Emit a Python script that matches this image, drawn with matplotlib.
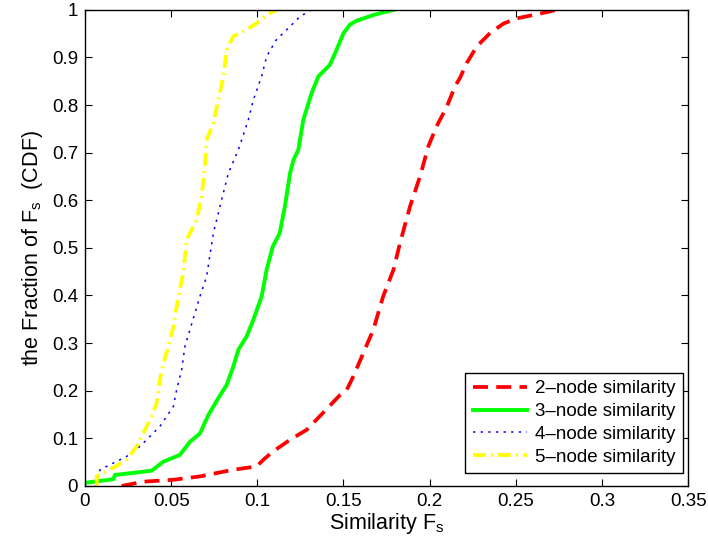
import matplotlib
matplotlib.use("Agg")
import matplotlib.pyplot as plt

plt.rcParams['font.family'] = ['Liberation Sans', 'DejaVu Sans']
plt.rcParams['mathtext.fontset'] = 'custom'
plt.rcParams['mathtext.rm'] = 'Liberation Sans'

# CDF samples (similarity value, cumulative fraction)
sim2_x = [0.0213, 0.034, 0.0513, 0.0667, 0.086, 0.0996, 0.1035, 0.109, 0.119, 0.1287,
          0.138, 0.148, 0.1519, 0.1557, 0.1615, 0.1673, 0.173, 0.179, 0.1828, 0.1886,
          0.1944, 0.1992, 0.204, 0.21, 0.2147, 0.2176, 0.2215, 0.2273, 0.235, 0.2428,
          0.2505, 0.264, 0.2737]
sim2_y = [0.0, 0.009, 0.013, 0.02, 0.034, 0.041, 0.055, 0.072, 0.097, 0.118,
          0.153, 0.191, 0.202, 0.23, 0.279, 0.328, 0.398, 0.454, 0.51, 0.587,
          0.65, 0.713, 0.755, 0.797, 0.839, 0.857, 0.888, 0.923, 0.951, 0.971,
          0.982, 0.992, 1.0]

sim3_x = [0.001, 0.0164, 0.0174, 0.0387, 0.0455, 0.055, 0.061, 0.0667, 0.0716, 0.078,
          0.0822, 0.086, 0.089, 0.0938, 0.0977, 0.1025, 0.1054, 0.109, 0.113, 0.116,
          0.119, 0.121, 0.1238, 0.1267, 0.1315, 0.1354, 0.142, 0.146, 0.15, 0.1538,
          0.1576, 0.1673, 0.179]
sim3_y = [0.007, 0.014, 0.023, 0.032, 0.051, 0.065, 0.093, 0.11, 0.149, 0.188,
          0.212, 0.25, 0.286, 0.314, 0.349, 0.398, 0.454, 0.503, 0.531, 0.587,
          0.657, 0.685, 0.706, 0.769, 0.825, 0.86, 0.884, 0.916, 0.951, 0.969,
          0.977, 0.989, 1.0]

sim4_x = [0.006, 0.0087, 0.0242, 0.0319, 0.0377, 0.0435, 0.0474, 0.0513, 0.0532, 0.0561,
          0.058, 0.0609, 0.0638, 0.0667, 0.0706, 0.0745, 0.0793, 0.0832, 0.089, 0.0948,
          0.0977, 0.1025, 0.1054, 0.111, 0.119, 0.1248, 0.1315]
sim4_y = [0.0, 0.034, 0.062, 0.083, 0.104, 0.125, 0.146, 0.167, 0.202, 0.244,
          0.293, 0.328, 0.363, 0.398, 0.44, 0.531, 0.601, 0.657, 0.706, 0.769,
          0.811, 0.86, 0.902, 0.937, 0.965, 0.986, 1.0]

sim5_x = [0.0068, 0.0068, 0.0145, 0.0242, 0.03, 0.0387, 0.0416, 0.0435, 0.0455, 0.0484,
          0.0513, 0.0542, 0.057, 0.059, 0.0648, 0.0677, 0.0696, 0.0706, 0.0745, 0.0774,
          0.0803, 0.0822, 0.086, 0.0938, 0.0996, 0.1054, 0.111]
sim5_y = [0.0, 0.02, 0.034, 0.055, 0.083, 0.146, 0.174, 0.223, 0.258, 0.293,
          0.335, 0.398, 0.447, 0.517, 0.559, 0.608, 0.671, 0.727, 0.762, 0.811,
          0.86, 0.916, 0.944, 0.958, 0.972, 0.989, 1.0]

labels = ['2\u2013node similarity', '3\u2013node similarity',
          '4\u2013node similarity', '5\u2013node similarity']
xticks = [0, 0.05, 0.1, 0.15, 0.2, 0.25, 0.3, 0.35]
xtick_labels = ['0', '0.05', '0.1', '0.15', '0.2', '0.25', '0.3', '0.35']
yticks = [0, 0.1, 0.2, 0.3, 0.4, 0.5, 0.6, 0.7, 0.8, 0.9, 1]
ytick_labels = ['0', '0.1', '0.2', '0.3', '0.4', '0.5', '0.6', '0.7', '0.8', '0.9', '1']

fig = plt.figure(figsize=(7.08, 5.46), dpi=100)
ax = fig.add_axes([0.120, 0.110, 0.852, 0.872])

ax.plot(sim2_x, sim2_y, color='#ff0000', lw=2.7, linestyle=(0, (4.0, 2.2)), label=labels[0])
ax.plot(sim3_x, sim3_y, color='#00ff00', lw=2.8, linestyle='-', label=labels[1])
ax.plot(sim4_x, sim4_y, color='#0000ff', lw=1.1, linestyle=(0, (1.5, 3.5)), label=labels[2])
ax.plot(sim5_x, sim5_y, color='#ffff00', lw=2.7, linestyle=(0, (3.4, 1.4, 0.5, 1.4)), label=labels[3])

ax.set_xlim(0, 0.35)
ax.set_ylim(0, 1)
ax.set_xticks(xticks)
ax.set_xticklabels(xtick_labels)
ax.set_yticks(yticks)
ax.set_yticklabels(ytick_labels)
ax.tick_params(direction='in', top=True, right=True, length=5, width=0.8,
               labelsize=13.5, pad=5)
for s in ax.spines.values():
    s.set_linewidth(1.0)

ax.set_xlabel('Similarity F$_\\mathregular{s}$', fontsize=15.5, labelpad=1)
ax.set_ylabel('the Fraction of F$_\\mathregular{s}$  (CDF)', fontsize=15.5, labelpad=5)

leg = ax.legend(loc='lower right', bbox_to_anchor=(0.992, 0.027), fontsize=13.5,
                frameon=True, fancybox=False, edgecolor='black', framealpha=1,
                handlelength=2.9, handletextpad=0.45, borderpad=0.4,
                labelspacing=0.3, borderaxespad=0)
leg.get_frame().set_linewidth(1.0)

fig.savefig('out.png', dpi=100)
